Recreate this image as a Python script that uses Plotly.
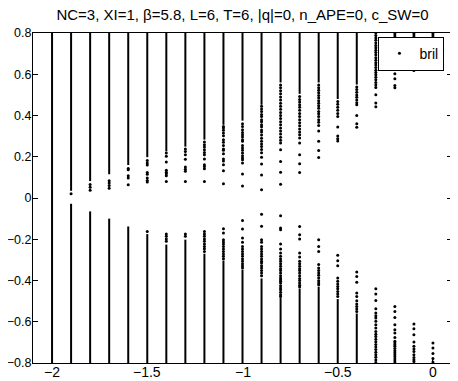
import plotly.graph_objects as go

# ---- data ----
col_x = [-2.0, -1.9, -1.8, -1.7, -1.6, -1.5, -1.4, -1.3, -1.2, -1.1, -1.0,
         -0.9, -0.8, -0.7, -0.6, -0.5, -0.4, -0.3, -0.2, -0.1, 0.0]

# dense (continuous-looking) parts of each column; None = no dense part
upper_band_lo = [0.0, 0.035, 0.082, 0.115, 0.160, 0.198, 0.226, 0.249, 0.283, 0.355, 0.375,
                 0.452, 0.560, 0.505, 0.560, 0.480, 0.550, None, None, None, None]
upper_band_hi = [0.8, 0.8, 0.8, 0.8, 0.8, 0.8, 0.8, 0.8, 0.8, 0.8, 0.8,
                 0.8, 0.8, 0.8, 0.8, 0.8, 0.8, None, None, None, None]
lower_band_lo = [-0.8, -0.8, -0.8, -0.8, -0.8, -0.8, -0.8, -0.8, -0.8, -0.8, -0.8,
                 -0.8, -0.8, -0.8, -0.8, -0.8, -0.8, None, None, None, None]
lower_band_hi = [0.0, -0.028, -0.065, -0.100, -0.138, -0.175, -0.226, -0.202, -0.270, -0.303, -0.348,
                 -0.390, -0.485, -0.440, -0.430, -0.490, -0.560, None, None, None, None]

# isolated eigenvalues outside the dense parts
upper_points = [
    [],
    [0.021],
    [0.066, 0.052, 0.038],
    [0.084, 0.073, 0.061, 0.047],
    [0.143, 0.137, 0.108, 0.097, 0.064],
    [0.182, 0.170, 0.160, 0.124, 0.115, 0.097, 0.085, 0.077],
    [0.218, 0.202, 0.175, 0.134, 0.125, 0.118, 0.108, 0.080],
    [0.238, 0.226, 0.210, 0.188, 0.150, 0.140, 0.130, 0.080],
    [0.271, 0.258, 0.247, 0.234, 0.221, 0.210, 0.189, 0.161, 0.153, 0.142, 0.080],
    [0.347, 0.339, 0.328, 0.315, 0.302, 0.283, 0.270, 0.254, 0.238, 0.231, 0.215, 0.189,
     0.180, 0.161, 0.132, 0.069],
    [0.360, 0.347, 0.331, 0.318, 0.307, 0.296, 0.283, 0.275, 0.254, 0.242, 0.231, 0.218,
     0.205, 0.194, 0.186, 0.170, 0.116, 0.058],
    [0.445, 0.432, 0.420, 0.405, 0.395, 0.380, 0.370, 0.355, 0.345, 0.330, 0.320, 0.305,
     0.290, 0.275, 0.262, 0.250, 0.235, 0.220, 0.197, 0.165, 0.112, 0.040],
    [0.548, 0.535, 0.520, 0.505, 0.490, 0.475, 0.460, 0.445, 0.430, 0.415, 0.400, 0.385,
     0.370, 0.355, 0.340, 0.325, 0.310, 0.295, 0.280, 0.267, 0.234, 0.177, 0.125, 0.067],
    [0.492, 0.478, 0.465, 0.452, 0.440, 0.425, 0.410, 0.395, 0.380, 0.365, 0.350, 0.335,
     0.320, 0.307, 0.291, 0.267, 0.210, 0.166, 0.124],
    [0.548, 0.535, 0.522, 0.510, 0.497, 0.485, 0.472, 0.460, 0.447, 0.435, 0.420, 0.408,
     0.395, 0.380, 0.367, 0.352, 0.325, 0.275, 0.230, 0.196],
    [0.468, 0.455, 0.440, 0.425, 0.410, 0.395, 0.344, 0.301, 0.287, 0.276],
    [0.538, 0.526, 0.513, 0.500, 0.488, 0.475, 0.462, 0.452, 0.400, 0.360, 0.343],
    [0.800, 0.788, 0.776, 0.765, 0.752, 0.740, 0.728, 0.716, 0.705, 0.693, 0.680, 0.668,
     0.656, 0.645, 0.633, 0.620, 0.608, 0.597, 0.585, 0.573, 0.560, 0.548, 0.536, 0.501,
     0.461, 0.443],
    [0.795, 0.785, 0.770, 0.740, 0.710, 0.690, 0.672, 0.665, 0.654, 0.643, 0.627, 0.603,
     0.578, 0.546, 0.535],
    [0.795, 0.785, 0.760, 0.720, 0.690, 0.665, 0.645, 0.632, 0.618],
    [0.795, 0.785, 0.750, 0.710],
]
lower_points = [
    [],
    [],
    [],
    [],
    [],
    [-0.162],
    [-0.175, -0.186, -0.199, -0.210],
    [-0.175, -0.186],
    [-0.163, -0.175, -0.186, -0.199, -0.210, -0.223, -0.235, -0.246, -0.259],
    [-0.149, -0.170, -0.202, -0.213, -0.223, -0.235, -0.247, -0.259, -0.272, -0.283, -0.294],
    [-0.109, -0.150, -0.194, -0.215, -0.235, -0.247, -0.259, -0.272, -0.283, -0.296, -0.307,
     -0.319, -0.330, -0.339],
    [-0.079, -0.137, -0.202, -0.215, -0.235, -0.247, -0.259, -0.272, -0.283, -0.296, -0.307,
     -0.315, -0.328, -0.339, -0.351, -0.364, -0.377],
    [-0.086, -0.145, -0.154, -0.223, -0.247, -0.267, -0.283, -0.296, -0.307, -0.319, -0.331,
     -0.343, -0.352, -0.364, -0.377, -0.388, -0.396, -0.404, -0.412, -0.425, -0.436, -0.445,
     -0.457, -0.469, -0.477],
    [-0.138, -0.178, -0.199, -0.267, -0.286, -0.307, -0.319, -0.331, -0.343, -0.352, -0.364,
     -0.377, -0.390, -0.400, -0.412, -0.423, -0.432],
    [-0.202, -0.235, -0.259, -0.323, -0.339, -0.352, -0.364, -0.375, -0.388, -0.401, -0.412,
     -0.421],
    [-0.278, -0.304, -0.328, -0.388, -0.404, -0.417, -0.429, -0.440, -0.453, -0.465, -0.477],
    [-0.359, -0.380, -0.409, -0.461, -0.477, -0.498, -0.514, -0.526, -0.538, -0.550],
    [-0.440, -0.465, -0.497, -0.537, -0.558, -0.571, -0.582, -0.598, -0.614, -0.630, -0.647,
     -0.660, -0.672, -0.685, -0.697, -0.710, -0.722, -0.735, -0.748, -0.760, -0.772, -0.785,
     -0.797],
    [-0.526, -0.550, -0.579, -0.614, -0.639, -0.655, -0.676, -0.695, -0.703, -0.711, -0.719,
     -0.730, -0.740, -0.750, -0.760, -0.770, -0.780, -0.790, -0.800],
    [-0.611, -0.634, -0.663, -0.698, -0.719, -0.732, -0.744, -0.760, -0.773, -0.784, -0.793],
    [-0.703, -0.727, -0.754, -0.778, -0.795],
]

title_text = "NC=3, XI=1, \u03b2=5.8, L=6, T=6, |q|=0, n_APE=0, c_SW=0"
series_name = "bril"
x_ticks = [-2, -1.5, -1, -0.5, 0]
y_ticks = [-0.8, -0.6, -0.4, -0.2, 0, 0.2, 0.4, 0.6, 0.8]

# ---- build traces ----
seg_x, seg_y = [], []
for i, xv in enumerate(col_x):
    for lo, hi in ((upper_band_lo[i], upper_band_hi[i]), (lower_band_lo[i], lower_band_hi[i])):
        if lo is None:
            continue
        seg_x += [xv, xv, None]
        seg_y += [lo, hi, None]

pt_x, pt_y = [], []
for i, xv in enumerate(col_x):
    for yv in upper_points[i] + lower_points[i]:
        pt_x.append(xv)
        pt_y.append(yv)

fig = go.Figure()
fig.add_trace(go.Scatter(x=seg_x, y=seg_y, mode="lines",
                         line=dict(color="black", width=2),
                         showlegend=False, hoverinfo="skip"))
fig.add_trace(go.Scatter(x=pt_x, y=pt_y, mode="markers", name=series_name,
                         marker=dict(color="black", size=3, line=dict(width=0)),
                         showlegend=True))

font_family = "Liberation Sans, Arial, Helvetica, sans-serif"

# x tick labels as text at the tick values, bottom-anchored so they stay on the page
x_label_annotations = [
    dict(x=v, xref="x", y=0, yref="paper", yanchor="bottom", yshift=-18,
         text=f"{v:g}".replace("-", "\u2212"), showarrow=False, borderpad=0,
         font=dict(family=font_family, size=14, color="black"))
    for v in x_ticks
]

# The page body has an 8px margin, so the figure is laid out 8px up/left
fig.update_layout(
    template="none",
    width=458, height=381,
    margin=dict(l=25, r=14, t=25, b=26, pad=0),
    paper_bgcolor="white", plot_bgcolor="white",
    font=dict(family=font_family, size=14, color="black"),
    title=dict(text=title_text, x=0.5, xref="paper", xanchor="center",
               y=1 - 7 / 381, yref="container", yanchor="middle",
               font=dict(family=font_family, size=15, color="black")),
    showlegend=True,
    legend=dict(x=0.982, y=0.989, xanchor="right", yanchor="top",
                bgcolor="white", bordercolor="black", borderwidth=1,
                font=dict(family=font_family, size=14, color="black"),
                itemwidth=30, tracegroupgap=0),
    annotations=x_label_annotations,
)
fig.update_xaxes(range=[-2.1, 0.1], tickvals=x_ticks, ticks="inside", ticklen=5,
                 tickcolor="black", showline=True, linecolor="black", linewidth=1,
                 mirror="ticks", showgrid=False, zeroline=False, automargin=False,
                 showticklabels=False)
fig.update_yaxes(range=[-0.8, 0.8], tickvals=y_ticks, ticks="inside", ticklen=5,
                 tickcolor="black", showline=True, linecolor="black", linewidth=1,
                 mirror="ticks", showgrid=False, zeroline=False, automargin=False,
                 ticklabelstandoff=-2, tickfont=dict(size=12.5))

fig.write_html("out.html")
